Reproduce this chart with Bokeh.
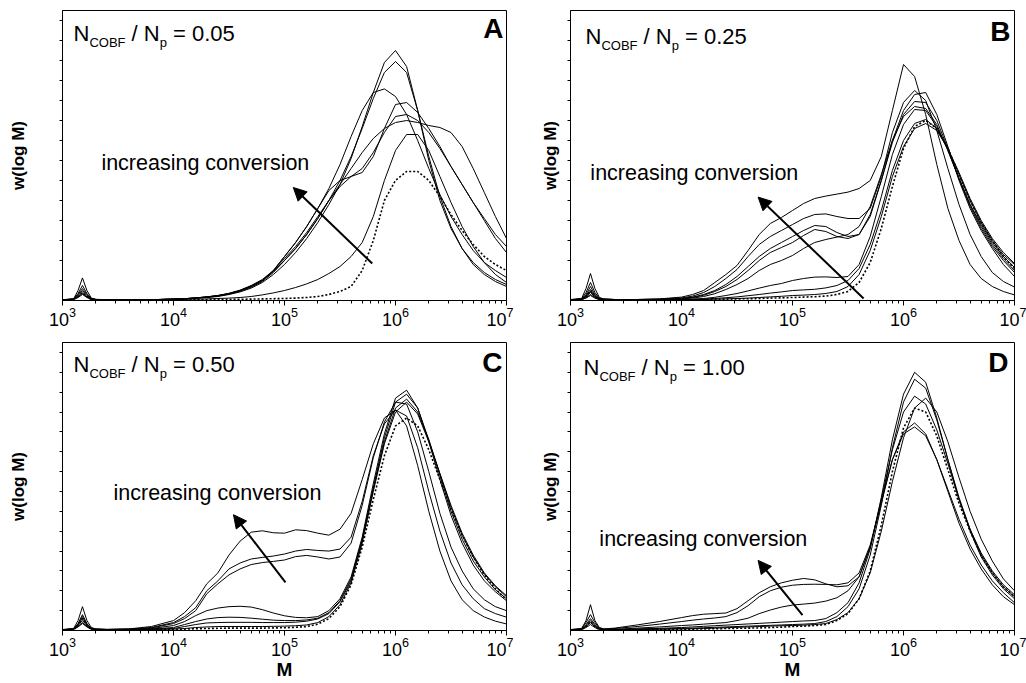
from bokeh.plotting import figure
from bokeh.layouts import row, column
from bokeh.models import Range1d, FixedTicker, Label, Arrow, NormalHead
from bokeh.embed import file_html
from bokeh.resources import INLINE

FONT = "Liberation Sans"

LOG_M = [3.0, 3.1, 3.14, 3.18, 3.22, 3.26, 3.3, 3.4, 3.6, 3.8,
         4.0, 4.1, 4.2, 4.3, 4.4, 4.5, 4.6, 4.7, 4.8, 4.9,
         5.0, 5.1, 5.2, 5.3, 5.4, 5.5, 5.6, 5.7, 5.8, 5.9,
         6.0, 6.1, 6.2, 6.3, 6.4, 6.5, 6.6, 6.7, 6.8, 6.9, 7.0]
M = [10 ** v for v in LOG_M]

X_TICKS = [1e3, 1e4, 1e5, 1e6, 1e7]
X_MINOR = [m * 10 ** k for k in range(3, 7) for m in range(2, 10)]
Y_TICKS = [round(0.1 * i, 1) for i in range(1, 15)]

RATIOS = ["0.05", "0.25", "0.50", "1.00"]
LETTERS = ["A", "B", "C", "D"]

# ---------------- panel A: N_COBF/N_p = 0.05 ----------------
A1 = [.004,.008,.05,.113,.05,.012,.006,.004,.003,.004, .006,.008,.011,.015,.02,.03,.043,.062,.09,.13,
      .18,.24,.31,.39,.48,.58,.71,.87,1.04,1.19, 1.25,1.17,.95,.70,.50,.36,.26,.19,.14,.105, .08]
A2 = [.004,.007,.035,.075,.035,.01,.005,.004,.003,.004, .007,.009,.012,.016,.022,.032,.046,.066,.095,.14,
      .2,.26,.33,.41,.5,.6,.72,.86,1.01,1.14, 1.195,1.14,.95,.72,.52,.37,.26,.18,.13,.095, .07]
A3 = [.004,.007,.03,.06,.03,.009,.005,.004,.003,.004, .007,.009,.013,.018,.025,.035,.05,.072,.1,.15,
      .22,.29,.37,.46,.56,.68,.82,.95,1.04,1.058, 1.02,.93,.8,.66,.53,.42,.33,.25,.19,.15, .115]
A4 = [.004,.006,.025,.05,.025,.008,.005,.004,.003,.004, .007,.009,.012,.017,.023,.033,.048,.07,.1,.145,
      .2,.26,.33,.41,.5,.57,.62,.64,.72,.86, .98,.99,.94,.86,.77,.67,.58,.49,.41,.33, .27]
A5 = [.004,.006,.02,.042,.02,.007,.005,.004,.003,.004, .007,.009,.013,.018,.025,.036,.052,.075,.105,.15,
      .22,.29,.37,.46,.55,.6,.62,.66,.74,.84, .92,.93,.9,.84,.76,.67,.58,.49,.4,.31, .24]
A6 = [.004,.006,.018,.035,.018,.006,.005,.004,.003,.004, .007,.009,.013,.018,.024,.034,.05,.072,.1,.148,
      .21,.27,.34,.42,.5,.58,.66,.74,.81,.86, .89,.9,.89,.875,.865,.84,.77,.66,.54,.42, .31]
A7 = [.003,.005,.015,.03,.015,.005,.004,.003,.003,.003, .005,.006,.007,.008,.01,.012,.015,.02,.028,.038,
      .05,.065,.083,.105,.135,.17,.22,.29,.42,.6, .75,.83,.83,.75,.62,.49,.37,.27,.19,.13, .09]
A_DOT = [.003,.005,.02,.04,.02,.005,.003,.002,.002,.002, .003,.003,.004,.004,.005,.005,.006,.007,.008,.009,
         .01,.012,.015,.02,.03,.045,.07,.15,.3,.5, .6,.645,.645,.6,.52,.43,.35,.28,.22,.18, .15]

# ---------------- panel B: 0.25 ----------------
B1 = [.005,.01,.06,.135,.06,.015,.008,.005,.005,.008, .017,.03,.05,.09,.13,.175,.25,.33,.385,.415,
      .45,.485,.51,.522,.532,.542,.56,.6,.72,.95, 1.18,1.12,.93,.68,.46,.3,.18,.11,.07,.045, .028]
B2 = [.004,.008,.04,.09,.04,.012,.007,.005,.005,.007, .013,.022,.04,.07,.11,.155,.22,.28,.32,.35,
      .38,.41,.43,.433,.42,.41,.41,.46,.62,.84, .99,1.05,1.0,.85,.66,.48,.33,.22,.14,.095, .067]
B3 = [.004,.007,.03,.07,.03,.01,.006,.005,.005,.006, .01,.017,.03,.05,.08,.12,.17,.22,.26,.29,
      .32,.35,.375,.37,.34,.32,.33,.42,.6,.8, .95,1.03,1.04,.93,.77,.6,.46,.35,.26,.18, .12]
B4 = [.004,.007,.025,.055,.025,.008,.006,.005,.004,.005, .009,.015,.026,.045,.07,.105,.15,.2,.24,.265,
      .29,.325,.355,.345,.32,.31,.33,.43,.6,.79, .93,.995,.99,.9,.76,.61,.47,.36,.27,.2, .14]
B5 = [.004,.006,.02,.045,.02,.007,.005,.004,.004,.005, .008,.012,.02,.034,.055,.08,.11,.15,.18,.2,
      .225,.26,.29,.305,.317,.33,.37,.47,.63,.8, .92,.97,.96,.88,.75,.61,.48,.37,.28,.21, .15]
B6 = [.004,.006,.02,.04,.02,.007,.005,.004,.004,.004, .005,.007,.01,.016,.025,.035,.048,.062,.075,.085,
      .1,.11,.117,.118,.115,.12,.18,.32,.52,.73, .88,.955,.95,.87,.75,.61,.48,.38,.29,.22, .165]
B7 = [.003,.005,.015,.03,.015,.005,.004,.003,.003,.003, .004,.005,.007,.01,.014,.018,.024,.03,.037,.043,
      .05,.053,.056,.063,.075,.1,.16,.28,.45,.65, .8,.885,.905,.86,.76,.63,.5,.39,.3,.23, .18]
B8 = [.003,.005,.012,.025,.012,.004,.003,.003,.003,.003, .003,.004,.005,.007,.008,.01,.012,.015,.018,.021,
      .025,.027,.03,.035,.045,.07,.13,.25,.42,.62, .77,.86,.885,.85,.76,.64,.51,.4,.31,.24, .185]
B_DOT = [.003,.005,.02,.05,.02,.005,.003,.002,.002,.002, .003,.004,.005,.006,.007,.008,.009,.01,.012,.013,
         .015,.017,.019,.022,.03,.045,.09,.19,.36,.57, .76,.87,.9,.86,.76,.63,.5,.39,.3,.22, .16]

# ---------------- panel C: 0.50 ----------------
C1 = [.005,.01,.05,.12,.05,.015,.008,.006,.008,.02, .05,.09,.15,.235,.29,.38,.45,.495,.502,.492,
      .49,.507,.503,.49,.48,.51,.59,.76,.94,1.07, 1.11,1.03,.83,.6,.4,.25,.155,.1,.068,.047, .033]
C2 = [.004,.008,.035,.08,.035,.012,.007,.005,.007,.015, .04,.07,.115,.2,.25,.31,.34,.36,.368,.375,
      .385,.4,.408,.403,.4,.41,.47,.65,.88,1.04, 1.11,1.08,.92,.7,.5,.34,.23,.16,.11,.085, .067]
C3 = [.004,.007,.03,.06,.03,.01,.006,.005,.006,.013, .035,.06,.1,.185,.235,.28,.31,.332,.342,.348,
      .355,.372,.378,.37,.36,.37,.44,.63,.87,1.05, 1.15,1.14,1.0,.8,.59,.42,.3,.21,.155,.12, .1]
C4 = [.004,.008,.03,.07,.03,.01,.006,.005,.006,.01, .025,.045,.075,.1,.113,.12,.122,.118,.105,.088,
      .074,.066,.064,.07,.1,.16,.27,.47,.74,.99, 1.17,1.21,1.12,.95,.76,.58,.44,.33,.25,.195, .15]
C5 = [.004,.007,.025,.05,.025,.008,.005,.004,.005,.008, .015,.03,.045,.058,.065,.067,.066,.062,.057,.052,
      .05,.05,.053,.062,.09,.15,.26,.46,.72,.97, 1.15,1.19,1.12,.96,.78,.6,.46,.35,.27,.205, .16]
C6 = [.004,.006,.02,.04,.02,.007,.005,.004,.005,.007, .01,.02,.03,.038,.04,.041,.041,.041,.04,.04,
      .04,.042,.047,.058,.085,.145,.25,.45,.71,.95, 1.12,1.165,1.1,.96,.79,.62,.48,.37,.285,.22, .17]
C7 = [.004,.006,.018,.035,.018,.006,.004,.004,.004,.005, .007,.01,.015,.018,.02,.02,.02,.02,.02,.021,
      .022,.024,.028,.04,.07,.13,.24,.44,.7,.94, 1.1,1.15,1.09,.95,.79,.63,.49,.38,.29,.225, .175]
C_DOT = [.003,.005,.025,.06,.025,.006,.004,.003,.003,.004, .005,.007,.009,.01,.011,.012,.012,.012,.012,.013,
         .014,.016,.02,.032,.06,.12,.23,.42,.66,.88, 1.03,1.07,1.03,.91,.76,.61,.48,.37,.28,.21, .155]

# ---------------- panel D: 1.00 ----------------
D1 = [.005,.01,.05,.13,.05,.015,.008,.012,.028,.045, .065,.075,.082,.085,.088,.11,.15,.19,.22,.24,
      .253,.262,.255,.235,.22,.225,.27,.42,.64,.86, 1.0,1.045,.99,.86,.7,.54,.41,.31,.23,.17, .13]
D2 = [.004,.008,.04,.08,.04,.012,.007,.01,.02,.032, .045,.052,.058,.063,.07,.09,.125,.17,.2,.218,
      .228,.232,.233,.232,.23,.24,.29,.43,.65,.86, .99,1.025,.98,.86,.71,.56,.43,.33,.25,.19, .14]
D3 = [.004,.007,.03,.06,.03,.01,.006,.006,.012,.018, .025,.028,.032,.036,.04,.05,.062,.085,.103,.118,
      .128,.133,.138,.148,.165,.2,.27,.42,.66,.91, 1.1,1.18,1.14,1.01,.84,.66,.51,.39,.3,.23, .18]
D4 = [.004,.006,.025,.05,.025,.008,.005,.005,.008,.011, .015,.018,.021,.024,.027,.03,.033,.036,.039,.042,
      .045,.048,.05,.06,.09,.14,.24,.41,.67,.96, 1.19,1.3,1.25,1.07,.86,.66,.5,.37,.28,.21, .16]
D5 = [.004,.006,.02,.04,.02,.007,.004,.004,.006,.008, .01,.012,.014,.016,.018,.02,.022,.024,.026,.028,
      .03,.032,.035,.045,.07,.12,.21,.38,.63,.92, 1.15,1.265,1.22,1.06,.86,.67,.51,.38,.29,.22, .17]
D6 = [.003,.005,.015,.03,.015,.005,.004,.004,.005,.006, .008,.009,.01,.012,.014,.016,.018,.02,.022,.024,
      .025,.027,.03,.035,.055,.09,.16,.29,.5,.75, .97,1.12,1.17,1.1,.95,.77,.6,.46,.35,.26, .2]
D_DOT = [.003,.005,.02,.045,.02,.005,.003,.003,.004,.005, .006,.007,.008,.009,.01,.011,.012,.013,.015,.017,
         .02,.022,.025,.03,.05,.085,.16,.3,.53,.8, 1.02,1.12,1.1,.98,.81,.64,.5,.38,.29,.22, .17]

SOLID = [[A1, A2, A3, A4, A5, A6, A7],
         [B1, B2, B3, B4, B5, B6, B7, B8],
         [C1, C2, C3, C4, C5, C6, C7],
         [D1, D2, D3, D4, D5, D6]]
DOTTED = [A_DOT, B_DOT, C_DOT, D_DOT]

# annotation anchors (data coordinates, text vertical middle): "increasing conversion" and arrow tail/head
TEXT_XY = [(2.24e3, 0.69), (1.51e3, 0.64), (2.88e3, 0.69), (1.82e3, 0.46)]
ARROW_XY = [(6.17e5, 0.185, 1.2e5, 0.565),
            (4.37e5, 0.01, 4.9e4, 0.517),
            (1.02e5, 0.242, 3.47e4, 0.583),
            (1.23e5, 0.078, 4.9e4, 0.353)]

# layout (pixels); title/letter offsets are (dx, baseline distance below frame top)
GEOM = [dict(w=513, h=330, l=62, r=7, t=10, b=30, std=32, xlabel=False, title=(11, 31), letter=(-3, 28)),
        dict(w=513, h=330, l=57, r=12, t=10, b=30, std=8, xlabel=False, title=(15, 34), letter=(-4, 31)),
        dict(w=513, h=353, l=62, r=7, t=12, b=53, std=32, xlabel=True, title=(11, 30), letter=(-4, 30)),
        dict(w=513, h=353, l=57, r=12, t=12, b=53, std=8, xlabel=True, title=(13, 33), letter=(-6, 30))]

Y_TOP = 1.45
MID = 0.35  # em distance between baseline and the vertical middle of the text box


def make_panel(i):
    g = GEOM[i]
    p = figure(width=g["w"], height=g["h"], x_axis_type="log",
               x_range=Range1d(1e3, 1e7), y_range=Range1d(0, Y_TOP),
               output_backend="svg", toolbar_location=None,
               min_border_left=g["l"], min_border_right=g["r"],
               min_border_top=g["t"], min_border_bottom=g["b"])
    p.background_fill_color = "white"
    p.border_fill_color = "white"
    p.outline_line_color = "black"
    p.outline_line_width = 1
    p.xgrid.visible = False
    p.ygrid.visible = False

    for ys in SOLID[i]:
        p.line(M, ys, line_color="black", line_width=1)
    p.line(M, DOTTED[i], line_color="black", line_width=1.6, line_dash="2 2")

    # x axis
    xa = p.xaxis[0]
    xa.ticker = FixedTicker(ticks=X_TICKS, minor_ticks=X_MINOR)
    xa.major_tick_in = 0
    xa.major_tick_out = 5
    xa.minor_tick_in = 0
    xa.minor_tick_out = 3
    xa.major_label_text_font = FONT
    xa.major_label_text_font_size = "18px"
    xa.major_label_text_color = "black"
    xa.major_label_standoff = 1
    xa.axis_line_color = "black"
    if g["xlabel"]:
        xa.axis_label = "M"
        xa.axis_label_text_font = FONT
        xa.axis_label_text_font_size = "19px"
        xa.axis_label_text_font_style = "bold"
        xa.axis_label_text_color = "black"
        xa.axis_label_standoff = 0

    # y axis: only small unlabeled ticks
    ya = p.yaxis[0]
    ya.ticker = FixedTicker(ticks=[], minor_ticks=Y_TICKS)
    ya.major_tick_in = 0
    ya.major_tick_out = 3
    ya.minor_tick_in = 0
    ya.minor_tick_out = 3
    ya.major_label_standoff = 0
    ya.axis_label = "w(log M)"
    ya.axis_label_text_font = FONT
    ya.axis_label_text_font_size = "17px"
    ya.axis_label_text_font_style = "bold"
    ya.axis_label_text_color = "black"
    ya.axis_label_standoff = g["std"]

    # title N_COBF / N_p = value, built from pieces (dx, baseline shift, size)
    tx, ty = g["title"]
    pieces = [("N", 0.0, 0, 22), ("COBF", 15.9, 6, 13), ("/ N", 58.1, 0, 22),
              ("p", 86.2, 6, 13), ("= " + RATIOS[i], 99.5, 0, 22)]
    for txt, dx, dy, fs in pieces:
        mid_below_top = ty + dy - MID * fs
        p.add_layout(Label(x=1e3, y=Y_TOP, x_offset=tx + dx, y_offset=-mid_below_top, text=txt,
                           text_font=FONT, text_font_size=f"{fs}px", text_color="black",
                           text_baseline="middle", text_align="left"))

    lx, ly = g["letter"]
    p.add_layout(Label(x=1e7, y=Y_TOP, x_offset=lx, y_offset=-(ly - MID * 28), text=LETTERS[i],
                       text_font=FONT, text_font_size="28px", text_font_style="bold",
                       text_color="black", text_baseline="middle", text_align="right"))

    x0, y0 = TEXT_XY[i]
    p.add_layout(Label(x=x0, y=y0, text="increasing conversion", text_font=FONT,
                       text_font_size="21.5px", text_color="black",
                       text_baseline="middle", text_align="left"))

    xs, ys_, xe, ye = ARROW_XY[i]
    p.add_layout(Arrow(end=NormalHead(size=13, fill_color="black", line_color="black"),
                       x_start=xs, y_start=ys_, x_end=xe, y_end=ye,
                       line_color="black", line_width=2))
    return p


panels = [make_panel(i) for i in range(4)]
layout = column(row(panels[0], panels[1]), row(panels[2], panels[3]))

open("out.html", "w").write(file_html(layout, INLINE))
